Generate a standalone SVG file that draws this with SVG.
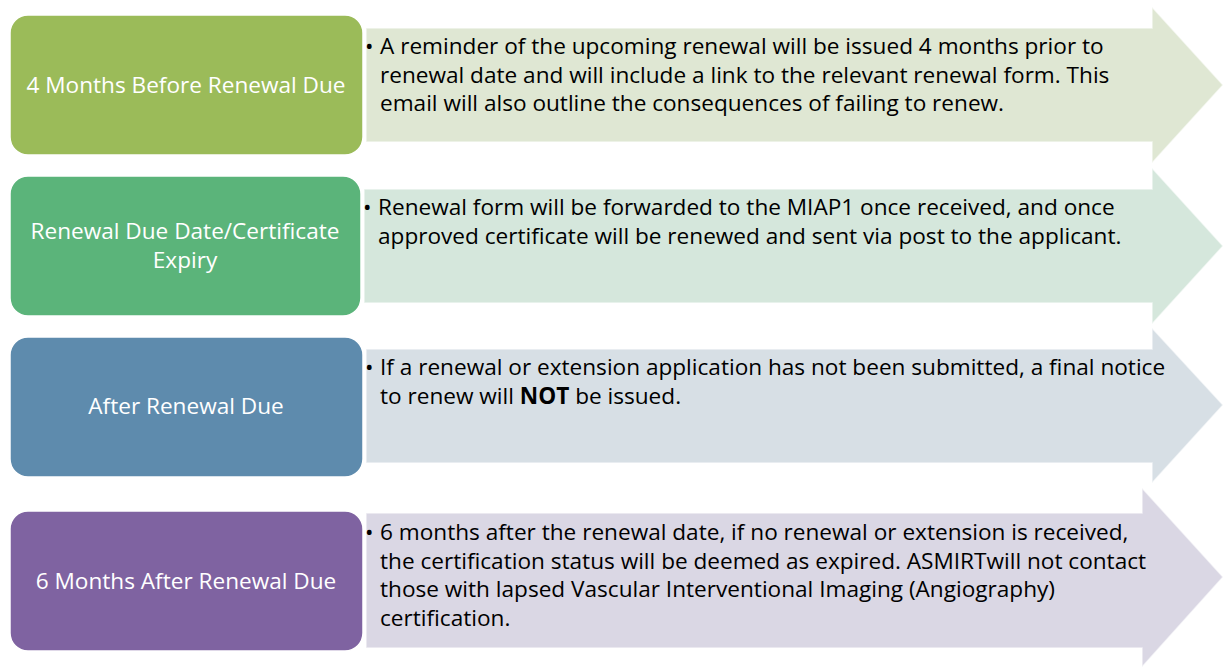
<svg xmlns="http://www.w3.org/2000/svg" width="1224" height="670" viewBox="0 0 1224 670">
<style>
.lbl{font-family:"Open Sans","Noto Sans","Liberation Sans",sans-serif;font-size:22.6px;fill:#ffffff;text-anchor:middle}
.txt{font-family:"Open Sans","Noto Sans","Liberation Sans",sans-serif;font-size:22.6px;fill:#000000}
.arr{stroke:#ffffff;stroke-opacity:0.6;stroke-width:1.5}
.box{stroke:#ffffff;stroke-width:1.5}
</style>
<rect x="0" y="0" width="1224" height="670" fill="#ffffff"/>
<g id="row1">
<path class="arr" fill="#DFE7D3" d="M366,28 H1152 V7 L1223,85 L1152,163 V142 H366 Z"/>
<rect class="box" x="10" y="15" width="353" height="140" rx="18" fill="#9BBB59"/>
<text class="lbl" x="186" y="93">4 Months Before Renewal Due</text>
<text class="txt" x="365" y="54">•</text>
<text class="txt"><tspan x="380" y="54">A reminder of the upcoming renewal will be issued 4 months prior to</tspan><tspan x="380" y="82.5">renewal date and will include a link to the relevant renewal form. This</tspan><tspan x="380" y="111">email will also outline the consequences of failing to renew.</tspan></text>
</g>
<g id="row2">
<path class="arr" fill="#D5E7DC" d="M364,189 H1152 V168 L1223,246 L1152,324 V303 H364 Z"/>
<rect class="box" x="10" y="176" width="351" height="140" rx="18" fill="#5BB47A"/>
<text class="lbl" x="185" y="239">Renewal Due Date/Certificate</text>
<text class="lbl" x="185" y="268">Expiry</text>
<text class="txt" x="363" y="215">•</text>
<text class="txt"><tspan x="378" y="215">Renewal form will be forwarded to the MIAP1 once received, and once</tspan><tspan x="378" y="243.5">approved certificate will be renewed and sent via post to the applicant.</tspan></text>
</g>
<g id="row3">
<path class="arr" fill="#D7DFE5" d="M366,349 H1152 V328 L1223,405 L1152,483 V463 H366 Z"/>
<rect class="box" x="10" y="337" width="353" height="140" rx="18" fill="#5E8BAD"/>
<text class="lbl" x="186" y="414">After Renewal Due</text>
<text class="txt" x="365" y="375">•</text>
<text class="txt"><tspan x="380" y="375">If a renewal or extension application has not been submitted, a final notice</tspan><tspan x="380" y="403.5">to renew will <tspan font-weight="bold">NOT</tspan> be issued.</tspan></text>
</g>
<g id="row4">
<path class="arr" fill="#DAD7E4" d="M366,513 H1142 V488 L1223,577 L1142,667 V648 H366 Z"/>
<rect class="box" x="10" y="511" width="353" height="140" rx="18" fill="#7F63A1"/>
<text class="lbl" x="186" y="589">6 Months After Renewal Due</text>
<text class="txt" x="365" y="540">•</text>
<text class="txt"><tspan x="380" y="540">6 months after the renewal date, if no renewal or extension is received,</tspan><tspan x="380" y="568.5">the certification status will be deemed as expired. ASMIRTwill not contact</tspan><tspan x="380" y="597">those with lapsed Vascular Interventional Imaging (Angiography)</tspan><tspan x="380" y="625.5">certification.</tspan></text>
</g>
</svg>
